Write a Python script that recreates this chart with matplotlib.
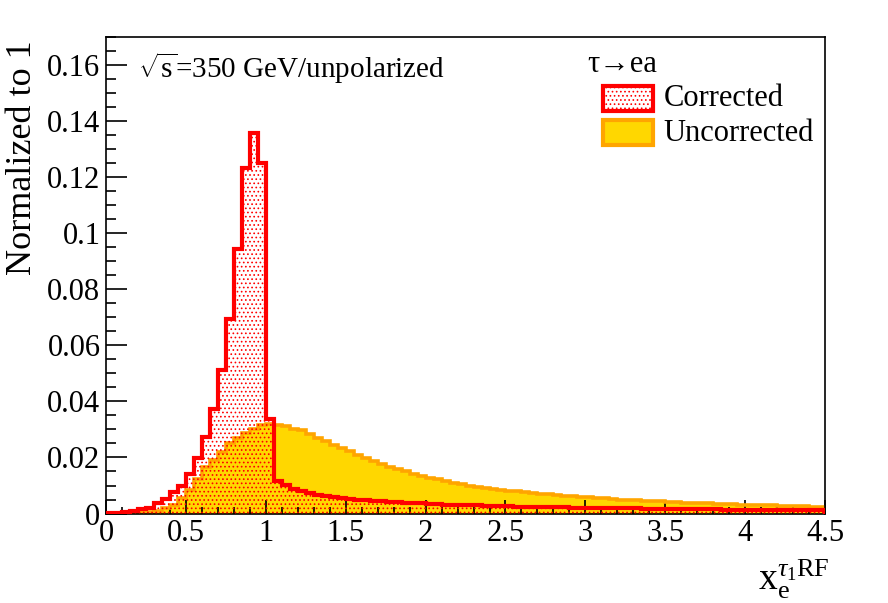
import numpy as np
import matplotlib
matplotlib.use("Agg")
import matplotlib.pyplot as plt
from matplotlib.patches import Rectangle
from matplotlib.ticker import MultipleLocator, FuncFormatter

plt.rcParams['font.family'] = ['Liberation Serif', 'DejaVu Serif']
plt.rcParams['mathtext.fontset'] = 'custom'
plt.rcParams['mathtext.rm'] = 'Liberation Serif'
plt.rcParams['mathtext.it'] = 'Liberation Serif:italic'
plt.rcParams['hatch.linewidth'] = 0.7

# binning: 90 bins of 0.05 from 0 to 4.5
bin_edges = np.round(np.arange(91) * 0.05, 2)

# Corrected (read bin by bin)
corrected = [0.0002, 0.0002, 0.0004, 0.0009, 0.0015, 0.0021, 0.0038, 0.0052, 0.0076, 0.0100,
             0.0140, 0.0197, 0.0274, 0.0373, 0.0511, 0.0695, 0.0945, 0.1232, 0.1360, 0.1252,
             0.0338,
             0.0116, 0.0102, 0.0088, 0.0080, 0.0073, 0.0067, 0.0062, 0.0058, 0.0055, 0.0052,
             0.0049, 0.0048, 0.0046, 0.0044, 0.0042, 0.0041, 0.0039, 0.0038, 0.0036, 0.0034,
             0.0033, 0.0032, 0.0031,
             0.0030, 0.0030, 0.0029, 0.0028, 0.0027, 0.0027, 0.0026, 0.0025, 0.0025, 0.0024,
             0.0023, 0.0023, 0.0022, 0.0022, 0.0021, 0.0021,
             0.0020, 0.0020, 0.0019, 0.0019, 0.0018, 0.0018, 0.0018, 0.0017, 0.0017, 0.0017,
             0.0016, 0.0016, 0.0016, 0.0015, 0.0015, 0.0015, 0.0015, 0.0014, 0.0014, 0.0014,
             0.0014, 0.0013, 0.0013, 0.0013, 0.0013, 0.0012, 0.0012, 0.0012, 0.0012, 0.0012]

# Uncorrected
uncorrected = [0.0000, 0.0001, 0.0001, 0.0002, 0.0004, 0.0007, 0.0010, 0.0018, 0.0030, 0.0054,
               0.0084, 0.0125, 0.0167, 0.0190, 0.0220, 0.0250, 0.0268, 0.0286, 0.0303, 0.0315,
               0.0321, 0.0315, 0.0313, 0.0303, 0.0298, 0.0285, 0.0270, 0.0258, 0.0246, 0.0233,
               0.0222, 0.0210, 0.0198, 0.0187, 0.0177, 0.0167, 0.0158, 0.0150, 0.0142, 0.0135,
               0.0128, 0.0122, 0.0116, 0.0110,
               0.0105, 0.0100, 0.0096, 0.0092, 0.0088, 0.0085, 0.0082, 0.0079, 0.0076, 0.0073,
               0.0070, 0.0068, 0.0066, 0.0064, 0.0062, 0.0060, 0.0058, 0.0056, 0.0054, 0.0052,
               0.0050, 0.0049, 0.0047, 0.0046, 0.0044, 0.0043, 0.0042, 0.0040, 0.0039, 0.0038,
               0.0037, 0.0036, 0.0035, 0.0034, 0.0033, 0.0032, 0.0031, 0.0030, 0.0030, 0.0029,
               0.0028, 0.0027, 0.0027, 0.0026, 0.0025, 0.0025]

RED = '#ff0000'
GOLD = '#ffd700'
ORANGE = '#ffa500'

fig = plt.figure(figsize=(8.88, 6.03), dpi=100)
ax = fig.add_axes([0.1194, 0.1484, 0.8097, 0.7897])

# uncorrected: yellow fill + orange outline
ax.stairs(uncorrected, bin_edges, fill=True, facecolor=GOLD, linewidth=0, zorder=1)
ax.stairs(uncorrected, bin_edges, color=ORANGE, linewidth=2.6, zorder=2)
# corrected: red dotted hatch + red outline
ax.stairs(corrected, bin_edges, fill=True, facecolor='none', edgecolor=RED,
          hatch='....', linewidth=0, zorder=3)
ax.stairs(corrected, bin_edges, color=RED, linewidth=3, zorder=4)

ax.set_xlim(0, 4.5)
ax.set_ylim(0, 0.17)

ax.xaxis.set_major_locator(MultipleLocator(0.5))
ax.xaxis.set_minor_locator(MultipleLocator(0.1))
ax.yaxis.set_major_locator(MultipleLocator(0.02))
ax.yaxis.set_minor_locator(MultipleLocator(0.005))
fmt = FuncFormatter(lambda v, p: '%g' % round(v, 4))
ax.xaxis.set_major_formatter(fmt)
ax.yaxis.set_major_formatter(fmt)

ax.tick_params(which='both', direction='in', top=False, right=False, labelsize=22, width=1.2)
ax.tick_params(axis='y', which='major', length=15, pad=4)
ax.tick_params(axis='y', which='minor', length=7.5)
ax.tick_params(axis='x', which='major', length=10, pad=4)
ax.tick_params(axis='x', which='minor', length=5)
for s in ax.spines.values():
    s.set_linewidth(1.2)

fig.text(0.025, 1 - 40 / 603, 'Normalized to 1', rotation=90, ha='center', va='top', fontsize=26)
fig.text(0.934, 0.003, r'$\mathrm{x}_{\mathrm{e}}^{\tau_{1}\mathrm{RF}}$', ha='right', va='bottom', fontsize=27)

ax.text(0.0445, 0.9355, r'$\sqrt{\mathrm{s}}$=350 GeV/unpolarized', transform=ax.transAxes,
        ha='left', va='center', fontsize=21)

# legend (ROOT style, drawn by hand)
ax.text(0.670, 0.942, 'τ→ea', transform=ax.transAxes, ha='left', va='center', fontsize=22)
ax.add_patch(Rectangle((0.691, 0.845), 0.0695, 0.0525, transform=ax.transAxes, facecolor='none',
                       edgecolor=RED, hatch='....', linewidth=3, zorder=5))
ax.add_patch(Rectangle((0.691, 0.774), 0.0695, 0.0525, transform=ax.transAxes, facecolor=GOLD,
                       edgecolor=ORANGE, linewidth=3, zorder=5))
ax.text(0.775, 0.8725, 'Corrected', transform=ax.transAxes, ha='left', va='center', fontsize=22)
ax.text(0.775, 0.799, 'Uncorrected', transform=ax.transAxes, ha='left', va='center', fontsize=22)

fig.savefig('out.png', dpi=100)
